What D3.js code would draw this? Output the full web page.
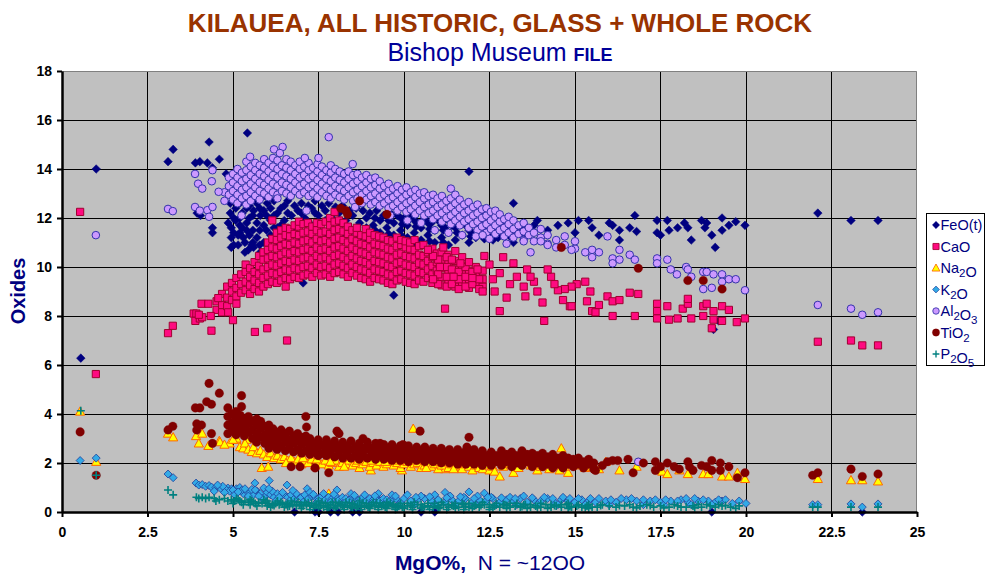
<!DOCTYPE html>
<html>
<head>
<meta charset="utf-8">
<title>Kilauea, all historic, glass + whole rock</title>
<script src="https://d3js.org/d3.v7.min.js"></script>
<style>
  body { margin: 0; background: #fff; }
  svg { display: block; font-family: Arial, "Liberation Sans", sans-serif; }
</style>
</head>
<body>
<script>
// ---------- values: [MgO %, oxide %] ----------
// dense bands are kept as columns [x, y1, y2, ...], loose points as [x, y]

const xTicks = [0, 2.5, 5, 7.5, 10, 12.5, 15, 17.5, 20, 22.5, 25];
const yTicks = [0, 2, 4, 6, 8, 10, 12, 14, 16, 18];

const feoPoints = [
  [0.55,6.28],[1.0,14.0],[3.1,14.3],[3.25,14.8],[3.9,14.25],[4.03,14.3],[4.25,14.25],[4.3,15.1],[4.6,14.4],[4.4,14.05],
  [5.42,15.47],[4.8,13.8],[3.95,12.2],[4.05,12.1],[4.4,11.6],[4.4,11.4],[4.86,11.8],[5.2,11.4],[5.3,11.2],[5.45,10.7],[5.55,10.9],
  [11.9,13.9],[13.2,12.6],[12.3,12.3],[16.75,12.1],[22.1,12.2],[23.07,11.9],[23.86,11.9],
  [13.9,11.9],[14.8,11.8],[15.1,11.9],[15.4,11.9],[15.5,11.6],[16.0,11.8],[16.1,11.7],[16.3,11.5],[16.6,11.6],[16.8,11.45],
  [16.3,11.1],[17.4,11.9],[17.4,11.4],[17.5,11.3],[17.7,11.9],[17.75,11.5],[18.0,11.6],[18.2,11.8],[18.3,11.6],[18.4,11.1],
  [18.7,11.9],[18.8,11.6],[18.85,11.8],[19.0,11.3],[19.1,10.8],[19.3,12.0],[19.3,11.5],[19.5,11.7],[19.7,11.85],[19.97,11.7],
  [14.2,11.5],[14.5,11.7],[13.6,11.4],[14.0,11.2],[15.0,11.4],[15.7,11.3],
  [19.05,7.45],[19.2,7.8],[9.7,8.85],[7.05,9.35],
  [6.8,0],[7.4,0],[7.5,0],[7.85,0],[8.07,0],[8.5,0],[8.7,0],[10.5,0],[10.9,0],[19.0,0],[23.4,0]
];
const feoBand = [
  [4.92,12.6,12.2],[5.08,12.9,12.4,11.9],[5.27,12.7,12.2,11.6],[5.48,12.5,12.0,11.3,13.0],[5.7,12.6,11.8,11.2],
  [5.9,12.3,11.7,11.0,12.9],[6.1,12.4,11.9,11.3],[6.3,12.2,11.6,11.0],[6.5,12.5,11.9,11.2],[6.71,12.1,11.5,10.9],
  [6.9,12.3,11.8,11.1],[7.1,12.0,11.4],[7.3,12.4,11.7,11.0],[7.5,12.1,11.5],[7.7,12.3,11.9,11.2],[7.9,12.0,11.4,10.9],
  [8.1,12.2,11.6],[8.3,11.9,11.3],[8.5,12.1,11.5,11.0],[8.7,11.8,11.2],[8.9,12.0,11.6,11.0],[9.1,11.7,11.3],
  [9.3,11.9,11.4,10.9],[9.5,11.6,11.1],[9.7,11.8,11.3],[9.9,11.5,11.0,12.0],[10.1,11.7,11.2],[10.3,11.9,11.4,10.9],
  [10.5,11.6,11.1],[10.7,11.8,11.3],[10.9,11.5,11.0,12.0],[11.1,11.7,11.2],[11.3,11.4,10.9,11.9],[11.5,11.6,11.1],
  [11.7,11.8,11.3],[11.9,11.5,11.0],[12.1,11.7,11.2],[12.3,11.4,11.9],[12.6,11.6,11.1],[12.9,11.3,11.8],
  [13.2,11.5,11.0],[13.5,11.7,11.2],
  [4.95,11.6,11.2,10.8],[5.15,11.3,10.9],[5.35,11.0,10.6],[5.6,12.3,10.8],[5.8,12.1,10.6],[6.0,12.6],[6.2,12.7,12.1],
  [6.4,12.4],[6.6,12.7,12.2],[6.8,12.5],[7.0,12.6,12.2],[7.2,12.5],[7.4,12.7,12.2],[7.6,12.5],[7.8,12.6],[8.0,12.45],
  [8.2,12.5],[8.4,12.3],[8.6,12.4],[8.8,12.3],[9.0,12.2],[9.2,12.3],[9.4,12.1],[9.6,12.2],[9.8,12.1],[10.0,12.0],
  [10.2,12.1],[10.4,11.8],[10.6,12.0],[10.8,11.8],[11.0,11.9],[11.2,11.6],[11.4,11.7],[11.6,11.9],[11.8,11.7],
  [12.0,11.4],[12.2,11.6],[12.45,11.8,11.3],[12.75,11.5],[13.05,11.7],[13.35,11.4],[13.7,11.5],[13.8,11.7],
  [5.02,12.0,11.4,10.9],[5.2,12.6,12.0,11.7],[5.4,12.4,11.8,11.5],[5.58,12.8,12.1,11.5,11.0],[5.78,12.4,11.5,10.9],
  [5.98,12.1,11.5],[6.2,11.6],[6.4,11.7,11.1],
  [9.15,12.0,11.5],[9.55,11.9,11.35],[9.95,11.75,11.25],[10.35,11.65],[10.75,11.55,11.05],[11.15,11.5,11.0],
  [11.55,11.4,11.85],[11.95,11.25,11.75],[12.35,11.15,11.6],[12.75,11.2,11.7],[13.1,11.25]
];

const caoPoints = [
  [0.53,12.25],[0.99,5.63],[3.1,7.3],[3.24,7.6],[3.85,8.1],[3.93,8.1],[3.9,7.8],[4.03,7.9],[4.1,7.95],[4.0,8.05],
  [4.08,8.5],[4.28,8.5],[4.35,8.0],[4.37,7.4],[4.57,8.73],[4.86,8.15],[5.0,7.83],[5.64,7.35],[6.0,7.5],[6.58,7.0],
  [11.2,8.3],[12.8,8.2],[14.1,7.8],[14.85,8.4],[16.1,8.0],[16.75,8.0],[19.0,7.5],
  [22.1,6.95],[23.07,7.0],[23.4,6.8],[23.86,6.8],
  [17.4,8.5],[17.4,8.2],[17.4,7.9],[17.7,8.4],[17.75,7.85],[18.0,7.9],[18.15,8.3],[18.3,8.5],[18.3,8.7],[18.4,7.9],
  [18.75,8.4],[18.75,8.0],[18.85,8.5],[19.05,8.2],[19.05,7.85],[19.3,8.4],[19.3,7.8],[19.5,8.25],[19.73,7.75],[19.97,7.9],
  [15.95,8.8],[16.1,8.6],[16.3,8.65],[16.6,8.95],[16.85,8.9],
  [15.35,8.6],[15.45,9.0],[15.5,8.2],[15.7,8.45],[15.6,8.15],[15.3,9.4],[15.05,9.3],[14.9,9.2],[14.9,8.4],[14.7,9.1],
  [14.65,8.65],[14.5,9.05],[14.3,9.6],[14.2,9.9],[14.05,8.55],[13.9,9.0],[13.6,9.9],[13.55,8.8],[13.5,9.2],[13.2,10.15],
  [13.1,9.3],[13.0,8.75],[12.9,10.4],[12.8,9.75],[12.65,9.0],[12.5,10.1],[12.35,10.45],[12.3,9.0],[12.15,9.9],[12.0,9.55],
  [11.9,10.2],[11.65,10.15],[11.5,10.65],[11.45,9.6],[11.15,10.8],[11.05,10.0],[10.85,10.45],[10.85,9.5],[10.7,10.7],
  [13.3,9.6],[13.8,9.4],[14.4,9.3],[12.6,9.5],[13.7,9.6]
];
const caoBand = [
  [4.52,8.25,8.6],[4.68,8.45,8.9,8.15],[4.83,8.4,8.75,9.2],[4.97,8.65,9.0,9.35],[5.1,8.8,9.15,9.55,8.5],
  [5.24,8.95,9.3,9.7],[5.37,9.05,9.4,9.8,10.1],[5.5,8.9,9.25,9.6,9.95],[5.63,9.1,9.45,9.8,10.2],
  [5.76,9.0,9.35,9.7,10.05,10.45],[5.89,9.2,9.55,9.9,10.3,10.6],[6.02,9.3,9.65,10.0,10.35,10.7,11.0],
  [6.15,9.4,9.75,10.1,10.45,10.8,11.15,11.9],[6.28,9.35,9.7,10.05,10.4,10.75,11.1,11.4],
  [6.41,9.45,9.8,10.15,10.5,10.85,11.2,11.5],[6.54,9.2,9.55,9.9,10.25,10.6,10.95,11.3,11.6],
  [6.67,9.5,9.85,10.2,10.55,10.9,11.25,11.55],[6.8,9.6,9.95,10.3,10.65,11.0,11.35,11.7],
  [6.93,9.55,9.9,10.25,10.6,10.95,11.3,11.65,11.85],[7.06,9.65,10.0,10.35,10.7,11.05,11.4,11.75],
  [7.19,9.7,10.05,10.4,10.75,11.1,11.45,11.8],[7.32,9.6,9.95,10.3,10.65,11.0,11.35,11.65],
  [7.45,9.75,10.1,10.45,10.8,11.15,11.5,11.8],[7.58,9.65,10.0,10.35,10.7,11.05,11.4,11.75],
  [7.71,9.7,10.05,10.4,10.75,11.1,11.45,11.85],[7.84,9.6,9.95,10.3,10.65,11.0,11.35,11.7,12.0],
  [7.97,9.75,10.1,10.45,10.8,11.15,11.5,11.85,12.25],[8.1,9.8,10.15,10.5,10.85,11.2,11.55,11.9],
  [8.23,9.7,10.05,10.4,10.75,11.1,11.45,11.8],[8.36,9.6,9.95,10.3,10.65,11.0,11.35,11.65],
  [8.49,9.75,10.1,10.45,10.8,11.15,11.5],[8.62,9.65,10.0,10.35,10.7,11.05,11.4,11.6],
  [8.75,9.55,9.9,10.25,10.6,10.95,11.3],[8.88,9.5,9.85,10.2,10.55,10.9,11.25,11.55],
  [9.01,9.4,9.75,10.1,10.45,10.8,11.15,11.4],[9.14,9.55,9.9,10.25,10.6,10.95,11.3],
  [9.27,9.5,9.85,10.2,10.55,10.9,11.25],[9.4,9.45,9.8,10.15,10.5,10.85,11.2],
  [9.53,9.35,9.7,10.05,10.4,10.75,11.1],[9.66,9.3,9.65,10.0,10.35,10.7,11.05],
  [9.79,9.45,9.8,10.15,10.5,10.85,11.2],[9.92,9.5,9.85,10.2,10.55,10.9,11.1],
  [10.05,9.4,9.75,10.1,10.45,10.8,11.05],[10.18,9.35,9.7,10.05,10.4,10.75,11.0],
  [10.31,9.3,9.65,10.0,10.35,10.7,11.1],[10.44,9.45,9.8,10.15,10.5,10.85],
  [10.57,9.4,9.75,10.1,10.45,10.9],[10.7,9.55,9.9,10.25,10.6],
  [10.83,9.35,9.7,10.05,10.4,10.75],[10.96,9.5,9.85,10.2,10.55],[11.1,9.25,9.6,9.95,10.3,10.6],
  [11.3,9.45,9.8,10.15,10.5],[11.5,9.2,9.55,9.9,10.25],[11.7,9.35,9.7,10.05,10.4],[11.9,9.15,9.5,9.85],
  [12.1,9.3,9.65,10.0],[12.3,9.2,9.5,9.85],
  [11.0,9.3,9.7,10.3],[11.25,9.2,9.6,10.0,10.4],[11.4,9.3,9.9,10.3],[11.6,9.1,9.5,9.8],
  [11.8,9.2,9.6,10.0],[12.0,9.3,9.8],[12.2,9.1,9.5]
];

const na2oPoints = [
  [0.53,4.1],[1.0,2.05],[3.1,3.2],[3.25,3.05],[3.92,3.1],[4.1,3.2],[4.0,2.8],[4.28,2.7],[4.6,2.9],[4.9,2.8],
  [5.1,2.95],[5.2,2.65],[5.84,1.8],[6.03,1.85],[6.8,2.05],[9.03,1.7],[9.94,1.7],[11.2,1.75],[10.27,3.4],[7.8,0.75],
  [4.62,2.85],[5.1,3.0],[5.4,2.95],[4.75,2.75],[5.0,2.95],[5.3,2.6],[5.35,2.8],[5.45,2.55],[5.55,2.45],[5.6,2.65],
  [5.7,2.4],[5.8,2.5],[5.9,2.35],[6.0,2.25],[6.1,2.4],[6.2,2.2],[6.3,2.3],[6.4,2.15],[6.5,2.25],[6.6,2.1],
  [6.7,2.2],[6.9,2.15],[7.0,1.95],[7.1,2.1],[7.2,2.0],[7.3,2.15],[7.4,1.9],[7.5,2.05],[7.6,1.95],[7.7,2.1],
  [7.8,1.9],[7.9,2.0],[8.0,2.1],[8.1,1.85],[8.2,2.0],[8.3,1.95],[8.4,2.1],[8.5,1.9],[8.6,2.0],[8.7,1.8],
  [8.8,1.95],[8.9,2.05],[9.0,1.85],[9.1,2.0],[9.2,1.9],[9.3,2.05],[9.4,1.85],[9.5,1.95],[9.6,2.05],[9.7,1.9],
  [9.8,2.0],[9.9,1.8],[10.0,1.95],[10.1,2.05],[10.2,1.85],[10.3,1.95],[10.4,2.0],[10.5,1.8],[10.6,1.9],[10.7,2.0],
  [10.8,1.85],[10.9,1.95],[11.0,1.75],[11.1,1.9],[11.3,1.8],[11.4,1.95],[11.5,1.85],[11.6,1.9],[11.7,1.75],[11.8,1.95],
  [11.9,1.85],[12.0,1.7],[12.1,1.9],[12.2,1.8],[12.3,1.75],[12.4,1.9],[12.5,1.7],[12.6,1.85],
  [6.55,2.0],[7.05,2.2],[7.45,2.15],[7.85,2.05],[8.25,1.85],[8.65,2.1],[9.05,2.1],[9.45,2.05],[9.85,2.1],[10.25,2.1],
  [10.65,1.8],[11.05,2.05],[11.45,1.75],[11.85,2.05],[12.25,2.0],[12.65,1.65],
  [14.6,2.6],[12.8,1.45],[13.2,1.6],[13.5,2.05],[13.9,1.7],[14.25,1.75],[14.55,1.7],[14.8,1.6],[15.3,1.8],[15.9,2.05],
  [16.3,1.7],[16.8,1.85],[17.55,1.65],[17.7,1.55],[18.05,1.7],[18.3,1.55],[18.75,1.55],[18.9,1.55],[19.3,1.45],[19.5,1.45],
  [19.75,1.6],[19.97,1.35],[22.1,1.35],[23.07,1.3],[23.4,1.3],[23.86,1.25],
  [12.9,1.85],[13.1,1.95],[13.35,1.8],[13.7,1.9],[14.0,1.85],[14.4,1.95],[14.7,1.85],[15.0,1.9],[15.5,1.85],[15.7,1.75]
];

const k2oPoints = [
  [0.53,2.1],[1.0,2.2],[3.1,1.55],[3.25,1.4],[3.92,1.18],[4.0,1.1],[4.1,1.12],[4.2,1.05],[4.3,1.08],[4.37,1.02],
  [4.5,1.0],[4.65,0.95],[4.85,0.98],[4.96,0.95],[5.1,0.95],[5.2,1.0],[5.64,1.18],[6.06,1.28],[5.9,0.98],[6.58,1.1],
  [7.17,0.95],[8.04,0.9],[11.2,0.8],[11.9,0.82],[12.35,0.77],[5.64,0.8],
  [4.8,0.9],[4.9,0.85],[5.0,0.9],[5.3,0.75],[5.4,0.85],[5.5,0.8],[5.6,0.7],[5.7,0.85],[5.8,0.75],[5.95,0.65],
  [6.0,0.8],[6.1,0.7],[6.2,0.6],[6.3,0.75],[6.4,0.65],[6.5,0.7],[6.6,0.6],[6.7,0.7],[6.8,0.55],[6.9,0.65],
  [7.0,0.6],[7.1,0.7],[7.2,0.55],[7.3,0.65],[7.4,0.6],[7.5,0.55],[7.6,0.65],[7.7,0.5],[7.8,0.6],[7.9,0.55],
  [8.0,0.65],[8.1,0.5],[8.2,0.6],[8.3,0.55],[8.4,0.5],[8.5,0.6],[8.6,0.55],[8.7,0.5],[8.8,0.6],[8.9,0.45],
  [9.0,0.55],[9.1,0.5],[9.2,0.6],[9.3,0.45],[9.4,0.55],[9.5,0.5],[9.6,0.45],[9.7,0.55],[9.8,0.5],[9.9,0.4],
  [10.0,0.55],[10.2,0.45],[10.4,0.5],[10.6,0.55],[10.8,0.45],[11.0,0.5],[11.2,0.4],[11.4,0.5],[11.6,0.45],[11.8,0.55],
  [12.0,0.4],[12.2,0.5],[12.4,0.45],[12.6,0.55],[12.8,0.4],[13.0,0.5],[13.2,0.45],[13.4,0.55],[13.6,0.4],[13.8,0.5],
  [14.0,0.45],[14.2,0.55],[14.4,0.4],[14.6,0.5],[14.8,0.45],[15.0,0.4],[15.2,0.5],[15.4,0.45],[15.6,0.4],[15.9,0.45],
  [16.2,0.4],[16.5,0.5],[16.8,0.45],[17.2,0.45],[17.5,0.4],[17.8,0.45],[18.1,0.5],[18.3,0.4],[18.6,0.45],[18.9,0.45],
  [19.1,0.4],[19.3,0.45],[19.6,0.35],[20.0,0.35],
  [5.05,0.7],[5.45,0.65],[5.85,0.55],[6.25,0.45],[6.65,0.45],[7.05,0.4],[7.45,0.4],[7.85,0.4],[8.25,0.35],[8.65,0.35],
  [9.05,0.35],[9.45,0.3],[9.85,0.3],[10.3,0.3],[10.9,0.3],[11.5,0.3],[12.1,0.3],[12.7,0.3],[13.3,0.3],[13.9,0.3],
  [14.5,0.3],[15.3,0.3],[16.0,0.3],[17.0,0.3],[17.6,0.3],[18.4,0.3],[19.0,0.3],
  [6.15,0.85],[6.45,0.8],[6.85,0.75],[7.25,0.8],[7.65,0.75],[8.45,0.75],[8.85,0.7],[9.25,0.75],[9.65,0.7],[10.1,0.7],
  [10.5,0.65],[10.9,0.7],[11.35,0.65],[11.75,0.6],[12.15,0.65],[12.55,0.6],[13.1,0.6],[13.5,0.65],[14.1,0.6],[14.65,0.6],
  [15.1,0.55],[15.7,0.55],[16.35,0.55],[17.0,0.5],[17.65,0.5],[18.25,0.55],[18.75,0.5],[19.4,0.5],[5.25,0.88],[5.55,0.92],
  [5.75,0.65],[6.35,0.6],[4.7,1.05],[4.45,0.85],
  [4.55,1.1],[4.75,0.8],[5.15,0.82],[5.35,0.95],[5.65,0.9],[6.05,0.95],[6.75,0.88],[7.35,0.72],[7.95,0.72],[8.55,0.68],
  [9.15,0.66],[9.75,0.65],[10.35,0.6],[10.75,0.62],[11.25,0.58],[11.65,0.62],[12.05,0.55],[12.45,0.6],[12.85,0.58],
  [13.25,0.55],[13.75,0.58],[14.35,0.55],[14.85,0.55],[15.45,0.55],[16.05,0.5],[16.65,0.55],[17.35,0.5],[18.0,0.45],
  [18.5,0.55],[19.2,0.5],[19.8,0.45],
  [21.95,0.3],[22.1,0.3],[23.07,0.33],[23.4,0.2],[23.86,0.33]
];

const al2o3Points = [
  [0.99,11.3],[3.1,12.37],[3.24,12.28],[3.89,13.8],[3.98,13.4],[4.1,13.2],[4.4,13.95],[4.38,13.5],[4.58,13.07],
  [3.89,12.45],[4.03,12.3],[4.25,12.32],[4.3,12.05],[4.4,12.45],
  [5.5,14.5],[6.2,14.8],[6.45,14.9],[6.37,14.65],[7.8,15.3],[7.1,14.45],[7.5,14.45],[8.5,14.2],
  [5.25,12.1],[6.3,12.8],[7.15,12.3],[8.57,12.45],[16.85,2.05],
  [10.9,11.5],[11.3,11.4],[11.7,11.3],[12.1,11.25],[12.5,11.15],[13.0,10.95],[10.5,11.8],[10.1,11.9],[9.6,12.1],
  [13.7,10.6],[12.3,11.3],[13.5,11.05],[14.0,11.05],[14.2,10.9],[14.9,10.7],[15.3,10.6],[15.5,10.7],[15.5,10.4],
  [15.7,10.6],[15.95,11.25],[16.1,10.35],[16.1,10.15],[16.3,10.7],[16.3,10.3],[16.6,10.5],[16.75,10.3],[17.4,10.35],
  [17.4,10.15],[17.7,10.3],[17.8,9.9],[17.98,9.7],[18.25,10.0],[18.3,9.9],[18.4,9.6],[18.75,9.8],[18.75,9.1],[18.85,9.8],
  [19.0,9.15],[19.05,9.7],[19.3,9.7],[19.3,9.4],[19.5,9.5],[19.7,9.5],[19.97,9.05],
  [22.1,8.45],[23.07,8.3],[23.4,8.05],[23.86,8.15]
];
const al2o3Band = [
  [4.75,12.7,13.05],[4.88,12.95,13.3,13.65],[5.0,12.75,13.1,13.45,13.8],[5.13,12.6,12.95,13.3,13.65,14.0],
  [5.26,12.8,13.15,13.5,13.85],[5.39,12.55,12.9,13.25,13.6,13.95,14.3],[5.52,12.7,13.05,13.4,13.75,14.1],
  [5.65,12.9,13.25,13.6,13.95,14.25],[5.78,12.75,13.1,13.45,13.8,14.15],[5.91,13.0,13.35,13.7,14.05,14.4],
  [6.04,12.85,13.2,13.55,13.9,14.25],[6.17,13.05,13.4,13.75,14.1,14.45],[6.3,12.95,13.3,13.65,14.0,14.35],
  [6.43,13.1,13.45,13.8,14.15],[6.56,13.0,13.35,13.7,14.05,14.4],[6.69,12.9,13.25,13.6,13.95,14.3],
  [6.82,13.1,13.45,13.8,14.15],[6.95,12.95,13.3,13.65,14.0,14.3],[7.08,13.05,13.4,13.75,14.1],
  [7.21,12.9,13.25,13.6,13.95,14.25],[7.34,13.0,13.35,13.7,14.05],[7.47,12.85,13.2,13.55,13.9,14.2],
  [7.6,13.05,13.4,13.75,14.1],[7.73,12.9,13.25,13.6,13.95],[7.86,12.8,13.15,13.5,13.85,14.15],
  [7.99,12.95,13.3,13.65,14.0],[8.12,12.85,13.2,13.55,13.9],[8.25,12.75,13.1,13.45,13.8],
  [8.38,12.9,13.25,13.6,13.9],[8.51,12.7,13.05,13.4,13.75],[8.64,12.8,13.15,13.5,13.8],
  [8.77,12.6,12.95,13.3,13.65],[8.9,12.75,13.1,13.45,13.75],[9.03,12.55,12.9,13.25,13.6],
  [9.16,12.65,13.0,13.35,13.65],[9.29,12.5,12.85,13.2,13.5],[9.42,12.6,12.95,13.3],
  [9.55,12.4,12.75,13.1,13.4],[9.68,12.5,12.85,13.2],[9.81,12.3,12.65,13.0,13.3],[9.94,12.45,12.8,13.15],
  [10.07,12.25,12.6,12.95,13.25],[10.2,12.35,12.7,13.05],[10.33,12.15,12.5,12.85,13.15],[10.46,12.3,12.65,13.0],
  [10.59,12.1,12.45,12.8,13.05],[10.72,12.2,12.55,12.9],[10.85,11.95,12.3,12.65,12.95],[10.98,12.1,12.45,12.8],
  [11.11,11.85,12.2,12.55,12.9],[11.24,12.0,12.35,12.7],[11.37,11.75,12.1,12.45,12.8,13.2],[11.5,11.9,12.25,12.6,12.95],
  [11.63,11.7,12.05,12.4,12.75],[11.76,11.85,12.2,12.55],[11.89,11.6,11.95,12.3,12.65],[12.02,11.75,12.1,12.45],
  [12.15,11.5,11.85,12.2,12.55],[12.28,11.65,12.0,12.35],[12.41,11.4,11.75,12.1,12.4],[12.54,11.55,11.9,12.25],
  [12.67,11.35,11.7,12.05,12.3],[12.8,11.5,11.85,12.15],[12.93,11.25,11.6,11.95],[13.06,11.4,11.75,12.05],
  [13.2,11.2,11.55,11.9],[13.35,11.35,11.7],[13.5,11.1,11.45,11.8],[13.65,11.3,11.6],[13.8,11.05,11.4],
  [14.0,11.2,11.55],[14.2,10.95,11.3],[14.45,11.1,10.8],[14.7,10.9,11.25],[15.0,10.75,11.05]
];

const tio2Points = [
  [0.53,3.27],[1.0,1.5],[3.1,3.35],[3.24,3.5],[3.9,4.25],[4.03,4.25],[4.23,4.5],[4.3,5.25],[4.37,4.4],[4.6,4.85],
  [4.85,4.25],[5.25,4.75],[5.25,4.3],[3.94,3.6],[4.08,3.55],[3.94,3.35],[4.37,3.2],[4.4,2.8],[4.85,3.2],
  [7.13,3.9],[7.15,3.47],[7.8,1.6],[6.7,1.85],[6.96,1.85],[7.4,1.8],[10.47,3.3],[11.9,3.05],[8.04,3.3],[8.1,3.2],
  [8.8,3.0],[9.3,2.8],[11.84,2.65],[9.97,2.75],
  [8.7,12.7],[8.15,12.4],[8.3,12.3],[8.35,12.15],[9.5,12.15],[14.6,10.8],[16.85,9.95],[18.3,9.45],[18.75,9.45],[19.3,9.1],
  [16.55,2.15],[17.0,2.0],[16.7,1.6],[17.35,2.05],[17.35,1.7],[17.5,1.85],[17.7,2.0],[17.9,1.85],[18.05,1.75],[18.3,2.05],
  [18.35,1.85],[18.45,1.7],[18.7,1.9],[18.85,1.85],[19.0,2.1],[19.0,1.7],[19.25,2.0],[19.25,1.7],[19.5,1.85],[19.75,1.4],
  [19.97,1.6],[21.95,1.5],[22.1,1.6],[23.07,1.75],[23.4,1.45],[23.86,1.55],
  [15.6,1.7],[15.95,2.05],[16.1,2.1],[16.25,2.1],[15.8,1.9]
];
const tio2Band = [
  [4.85,3.55,3.9],[4.97,3.3,3.65,4.0],[5.09,3.15,3.5,3.85,4.1],[5.21,3.3,3.65,3.95],[5.33,3.1,3.45,3.8],
  [5.45,3.25,3.6,3.9],[5.57,3.0,3.35,3.7],[5.69,2.85,3.2,3.55,3.8],[5.81,3.05,3.4,3.7],[5.93,2.8,3.15,3.5],
  [6.05,2.6,2.95,3.3,3.55],[6.17,2.75,3.1,3.4],[6.29,2.55,2.9,3.25],[6.41,2.7,3.05,3.35],[6.53,2.5,2.85,3.2],
  [6.65,2.6,2.95,3.3],[6.77,2.45,2.8,3.1],[6.89,2.55,2.9,3.2],[7.01,2.4,2.75,3.05],[7.13,2.5,2.85,3.1],
  [7.25,2.35,2.7,3.0],[7.37,2.45,2.8],[7.49,2.3,2.65,2.95],[7.61,2.4,2.75],[7.73,2.3,2.6,2.95],[7.85,2.4,2.75],
  [7.97,2.25,2.6,2.9],[8.09,2.35,2.7],[8.21,2.2,2.55,2.85],[8.33,2.35,2.65],[8.45,2.2,2.55,2.9],[8.57,2.3,2.65],
  [8.69,2.15,2.5,2.8],[8.81,2.3,2.6],[8.93,2.2,2.55,2.85],[9.05,2.3,2.6],[9.17,2.15,2.5,2.8],[9.29,2.3,2.6],
  [9.41,2.15,2.45,2.75],[9.53,2.25,2.55],[9.65,2.1,2.45,2.75],[9.77,2.25,2.55],[9.89,2.1,2.4,2.7],[10.01,2.2,2.5],
  [10.13,2.05,2.4,2.7],[10.25,2.2,2.5],[10.37,2.1,2.4,2.65],[10.49,2.2,2.5],[10.61,2.05,2.35,2.65],[10.73,2.2,2.45],
  [10.85,2.05,2.35,2.6],[10.97,2.15,2.45],[11.09,2.0,2.3,2.6],[11.21,2.15,2.45],[11.33,2.0,2.3,2.55],[11.45,2.1,2.4],
  [11.57,1.95,2.25,2.55],[11.69,2.1,2.4],[11.81,1.95,2.25,2.5],[11.93,2.1,2.35],[12.05,1.95,2.25,2.55],[12.17,2.05,2.35],
  [12.29,1.9,2.2,2.5],[12.41,2.05,2.3],[12.55,1.9,2.2,2.45],[12.7,2.05,2.3],[12.85,1.9,2.2,2.5],[13.0,2.05,2.35],
  [13.15,1.85,2.15,2.45],[13.3,2.0,2.3],[13.45,1.9,2.2,2.5],[13.6,2.05,2.35],[13.75,1.85,2.15,2.4],[13.9,2.0,2.3],
  [14.05,1.85,2.15,2.4],[14.2,1.95,2.25],[14.35,1.8,2.1,2.35],[14.5,1.95,2.2],[14.65,1.8,2.1,2.3],[14.8,1.95,2.2],
  [14.95,1.85,2.15],[15.1,1.95,2.2],[15.25,1.8,2.05],[15.4,1.95,2.15],[15.55,1.75,2.0]
];

const p2o5Points = [
  [0.55,4.13],[1.0,1.5],[3.1,0.9],[3.25,0.7],[21.95,0.2],[22.1,0.2],[23.07,0.2],[23.86,0.2],
  [3.93,0.6],[4.0,0.55],[4.1,0.6],[4.2,0.55],[4.3,0.6],[4.45,0.55],[4.6,0.5],[4.75,0.55],[4.85,0.45],[4.95,0.5],
  [5.05,0.45],[5.15,0.5],[5.25,0.4],[5.35,0.45],[5.45,0.4],[5.55,0.45],[5.65,0.35],[5.75,0.4],[5.85,0.35],[5.95,0.4],
  [6.05,0.35],[6.15,0.3],[6.25,0.35],[6.35,0.3],[6.45,0.35],[6.55,0.3],[6.65,0.25],[6.75,0.3],[6.85,0.25],[6.95,0.3],
  [7.05,0.25],[7.15,0.3],[7.25,0.25],[7.35,0.2],[7.45,0.3],[7.55,0.25],[7.65,0.2],[7.75,0.25],[7.85,0.3],[7.95,0.2],
  [8.05,0.25],[8.15,0.3],[8.25,0.2],[8.35,0.25],[8.45,0.2],[8.55,0.3],[8.65,0.25],[8.75,0.2],[8.85,0.25],[8.95,0.2],
  [9.05,0.3],[9.15,0.25],[9.25,0.2],[9.35,0.25],[9.45,0.2],[9.55,0.3],[9.65,0.25],[9.75,0.2],[9.85,0.25],[9.95,0.2],
  [10.1,0.25],[10.25,0.2],[10.4,0.3],[10.55,0.2],[10.7,0.25],[10.85,0.2],[11.0,0.25],[11.15,0.3],[11.3,0.2],[11.45,0.25],
  [11.6,0.2],[11.75,0.3],[11.9,0.2],[12.05,0.25],[12.2,0.2],[12.35,0.3],[12.5,0.2],[12.65,0.25],[12.8,0.2],[12.95,0.3],
  [13.1,0.2],[13.25,0.25],[13.4,0.2],[13.55,0.3],[13.7,0.2],[13.85,0.25],[14.0,0.2],[14.15,0.3],[14.3,0.2],[14.45,0.25],
  [14.6,0.2],[14.75,0.3],[14.9,0.2],[15.05,0.25],[15.2,0.2],[15.35,0.25],[15.5,0.2],[15.65,0.2],[16.0,0.25],[16.2,0.2],
  [16.45,0.25],[16.7,0.2],[16.9,0.25],[17.3,0.2],[17.5,0.25],[17.75,0.2],[18.0,0.25],[18.25,0.2],[18.45,0.25],[18.7,0.2],
  [18.95,0.25],[19.1,0.2],[19.3,0.25],[19.55,0.2],[19.7,0.15],
  [4.5,0.45],[5.0,0.35],[5.5,0.3],[6.0,0.25],[6.5,0.2],[7.0,0.15],[7.5,0.15],[8.0,0.15],[8.5,0.15],[9.0,0.15],
  [9.5,0.15],[10.0,0.15],[10.5,0.15],[11.0,0.15],[11.5,0.15],[12.0,0.15],
  [5.1,0.55],[5.5,0.5],[5.9,0.5],[6.3,0.45],[6.7,0.45],[7.1,0.4],[7.5,0.45],[7.9,0.4],[8.3,0.4],[8.7,0.45],
  [9.1,0.4],[9.5,0.4],[9.9,0.35],[10.3,0.4],[10.7,0.35],[11.1,0.4],[11.5,0.35],[11.9,0.35],[12.3,0.4],[12.7,0.35],
  [13.1,0.35],[13.5,0.3],[14.0,0.35],[14.6,0.3],[15.1,0.3],
  [5.3,0.3],[5.7,0.25],[6.1,0.2],[6.6,0.35],[6.9,0.4],[7.3,0.35],[7.7,0.35],[8.1,0.35],[8.5,0.35],[8.9,0.35],
  [9.3,0.35],[9.7,0.3],[10.1,0.35],[10.5,0.3],[10.9,0.35],[11.3,0.3],[11.7,0.35],[12.1,0.3],[12.5,0.3],[12.9,0.3],
  [13.3,0.35],[13.7,0.3],[14.3,0.3],[14.8,0.35],[15.4,0.3],[15.8,0.3],[16.6,0.3],[17.1,0.3],[17.9,0.3],[18.6,0.3],[19.2,0.3],
  [7.25,0.1],[7.75,0.1],[8.25,0.1],[8.75,0.1],[9.25,0.1],[9.75,0.1],[10.25,0.1],[10.75,0.1],[11.25,0.1],[11.75,0.1],
  [12.5,0.1],[13.0,0.15],[13.6,0.15],[14.2,0.15],[14.8,0.15],[15.4,0.15],
  [5.2,0.45],[5.6,0.42],[6.0,0.45],[6.4,0.4],[6.8,0.42],[7.2,0.38],[7.6,0.4],[8.0,0.4],[8.4,0.38],[8.8,0.38],
  [9.2,0.37],[9.6,0.36],
  [6.2,0.27],[6.6,0.22],[7.0,0.28],[7.4,0.27],[7.8,0.18],[8.2,0.28],[8.6,0.18],[9.0,0.22],[9.4,0.28],[9.8,0.18],
  [10.2,0.28],[10.6,0.22],[11.05,0.18],[11.4,0.28],[11.8,0.22],[12.25,0.27],[12.6,0.17],[13.0,0.27],[13.45,0.22],
  [13.9,0.17],[14.4,0.27],[14.85,0.22],[15.3,0.17],[15.75,0.27],[16.3,0.27],[16.8,0.17],[17.2,0.27],[17.6,0.17],
  [18.1,0.2],[18.5,0.17],[18.85,0.3],[19.4,0.27],[19.8,0.25]
];

// turn [x, y1, y2, ...] columns into [x, y] pairs
function unfold(cols) {
  return cols.flatMap(c => c.slice(1).map(y => [c[0], y]));
}

const seriesNames = ["FeO(t)", "CaO", "Na2O", "K2O", "Al2O3", "TiO2", "P2O5"];
const seriesData = [
  unfold(feoBand).concat(feoPoints),
  unfold(caoBand).concat(caoPoints),
  na2oPoints,
  k2oPoints,
  unfold(al2o3Band).concat(al2o3Points),
  unfold(tio2Band).concat(tio2Points),
  p2o5Points
];

// marker look for each series (same order as the legend)
const markers = [
  {path: "M0,-4.3L4.3,0L0,4.3L-4.3,0Z", fill: "#000080", stroke: "#000080", sw: 0.5},
  {path: "M-3.6,-3.6H3.6V3.6H-3.6Z", fill: "#FF0A80", stroke: "#A00030", sw: 1},
  {path: "M0,-4.7L4.6,3.6H-4.6Z", fill: "#FFFF00", stroke: "#FF6600", sw: 1},
  {path: "M0,-4L4,0L0,4L-4,0Z", fill: "#33AAE6", stroke: "#1F3D99", sw: 0.8},
  {path: d3.symbol(d3.symbolCircle, Math.PI * 3.8 * 3.8)(), fill: "#CC99FF", stroke: "#3333AA", sw: 1},
  {path: d3.symbol(d3.symbolCircle, Math.PI * 4.3 * 4.3)(), fill: "#800000", stroke: "#800000", sw: 0.3},
  {path: "M-4,0H4M0,-4V4", fill: "none", stroke: "#008080", sw: 1.6}
];

const WIDTH = 991;
const HEIGHT = 584;

const svg = d3.select("body").append("svg")
  .attr("width", WIDTH)
  .attr("height", HEIGHT);

// plot box
const plot = {left: 62, right: 917, top: 71, bottom: 512};

const xScale = d3.scaleLinear().domain([0, 25]).range([plot.left, plot.right]);
const yScale = d3.scaleLinear().domain([0, 18]).range([plot.bottom, plot.top]);

// grey background
svg.append("rect")
  .attr("x", plot.left).attr("y", plot.top)
  .attr("width", plot.right - plot.left).attr("height", plot.bottom - plot.top)
  .style("fill", "#C0C0C0");

// gridlines
const grid = svg.append("g").attr("class", "grid");
grid.selectAll(".vline")
  .data(xTicks.filter(t => t > 0 && t < 25))
  .enter().append("line")
  .attr("x1", d => xScale(d)).attr("x2", d => xScale(d))
  .attr("y1", plot.top).attr("y2", plot.bottom)
  .style("stroke", "#000").style("stroke-width", 1).attr("shape-rendering", "crispEdges");
grid.selectAll(".hline")
  .data(yTicks.filter(t => t > 0 && t < 18))
  .enter().append("line")
  .attr("x1", plot.left).attr("x2", plot.right)
  .attr("y1", d => yScale(d)).attr("y2", d => yScale(d))
  .style("stroke", "#000").style("stroke-width", 1).attr("shape-rendering", "crispEdges");

// top and right edges of the plot box are grey
svg.append("path")
  .attr("d", `M${plot.left},${plot.top + 0.5}H${plot.right - 0.5}V${plot.bottom}`)
  .style("fill", "none").style("stroke", "#808080").style("stroke-width", 1);

// markers, drawn series by series so later ones sit on top
const pts = svg.append("g").attr("class", "points");
seriesData.forEach((data, i) => {
  const m = markers[i];
  pts.append("g")
    .attr("class", "series-" + i)
    .selectAll("path")
    .data(data)
    .enter().append("path")
    .attr("transform", d => `translate(${xScale(d[0])},${yScale(d[1])})`)
    .attr("d", m.path)
    .style("fill", m.fill)
    .style("stroke", m.stroke)
    .style("stroke-width", m.sw);
});

// axes
const xAxis = d3.axisBottom(xScale).tickValues(xTicks).tickSize(5).tickSizeOuter(0).tickPadding(10)
  .tickFormat(d => String(d));
const yAxis = d3.axisLeft(yScale).tickValues(yTicks).tickSize(5).tickSizeOuter(0).tickPadding(5);

const gx = svg.append("g")
  .attr("transform", `translate(0,${plot.bottom})`)
  .call(xAxis);
const gy = svg.append("g")
  .attr("transform", `translate(${plot.left},0)`)
  .call(yAxis);

[gx, gy].forEach(g => {
  g.select(".domain").style("stroke", "#000").style("stroke-width", 2.5);
  g.selectAll(".tick line").style("stroke", "#000").style("stroke-width", 2);
  g.selectAll(".tick text")
    .style("font-family", "Arial, 'Liberation Sans', sans-serif")
    .style("font-size", "14px").style("font-weight", "bold").style("fill", "#000");
});

// titles
svg.append("text")
  .attr("x", 500).attr("y", 32)
  .attr("text-anchor", "middle")
  .style("font-size", "26px").style("font-weight", "bold").style("fill", "#993300")
  .text("KILAUEA, ALL HISTORIC, GLASS + WHOLE ROCK");

const sub = svg.append("text")
  .attr("x", 500).attr("y", 61)
  .attr("text-anchor", "middle")
  .style("fill", "#000099");
sub.append("tspan").style("font-size", "25px").text("Bishop Museum ");
sub.append("tspan").style("font-size", "18px").style("font-weight", "bold").text("FILE");

// axis titles
svg.append("text")
  .attr("transform", "translate(25,291) rotate(-90)")
  .attr("text-anchor", "middle")
  .style("font-size", "20px").style("font-weight", "bold").style("fill", "#000080")
  .text("Oxides");

const xt = svg.append("text")
  .attr("x", 490).attr("y", 570)
  .attr("text-anchor", "middle")
  .style("font-size", "21px").style("fill", "#000080")
  .attr("xml:space", "preserve");
xt.append("tspan").style("font-weight", "bold").text("MgO%,");
xt.append("tspan").text("  N = ~12OO");

// legend
const legend = svg.append("g").attr("class", "legend");
legend.append("rect")
  .attr("x", 926.5).attr("y", 213.5).attr("width", 58).attr("height", 152)
  .style("fill", "#fff").style("stroke", "#000").style("stroke-width", 1);

seriesNames.forEach((name, i) => {
  const cy = 225 + i * 21.5;
  const m = markers[i];
  legend.append("path")
    .attr("transform", `translate(936,${cy}) scale(0.85)`)
    .attr("d", m.path)
    .style("fill", m.fill).style("stroke", m.stroke).style("stroke-width", m.sw);
  const t = legend.append("text")
    .attr("x", 940.5).attr("y", cy + 5)
    .style("font-size", "14.5px").style("fill", "#000080");
  // digits in the formulas are subscripts
  name.split(/(\d)/).filter(s => s !== "").forEach(part => {
    if (/\d/.test(part)) {
      t.append("tspan").attr("dy", 4).style("font-size", "11.5px").text(part);
      t.append("tspan").attr("dy", -4).text("");
    } else {
      t.append("tspan").text(part);
    }
  });
});
</script>
</body>
</html>
